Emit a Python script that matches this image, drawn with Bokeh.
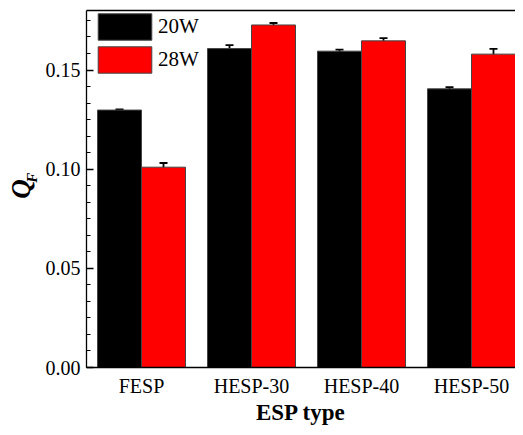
from bokeh.plotting import figure
from bokeh.models import (ColumnDataSource, Range1d, FixedTicker, LinearAxis, Legend,
                          LegendItem, Whisker, TeeHead, Title, NumeralTickFormatter)
from bokeh.embed import file_html
from bokeh.resources import INLINE

categories = ["FESP", "HESP-30", "HESP-40", "HESP-50"]
qf_20w = [0.1298, 0.1608, 0.1595, 0.1405]
qf_28w = [0.1010, 0.1727, 0.1647, 0.1580]
err_20w = [0.0003, 0.0017, 0.0008, 0.0008]
err_28w = [0.0021, 0.0010, 0.0014, 0.0027]
series_names = ["20W", "28W"]
y_major_ticks = [0.0, 0.05, 0.10, 0.15]

FONT = "Liberation Serif"
idx = list(range(len(categories)))

p = figure(width=515, height=427, output_backend="svg", toolbar_location=None,
           x_range=Range1d(-0.5, 3.4), y_range=Range1d(0, 0.18),
           min_border_left=86, min_border_right=0, min_border_top=10, min_border_bottom=57)
p.outline_line_color = None
p.xgrid.visible = False
p.ygrid.visible = False
p.background_fill_color = "white"
p.border_fill_color = "white"

def make_src(vals, errs, off):
    return ColumnDataSource(dict(
        x=[i + off for i in idx], top=vals,
        upper=[v + e for v, e in zip(vals, errs)],
        lower=[v - e for v, e in zip(vals, errs)]))

s20 = make_src(qf_20w, err_20w, -0.2)
s28 = make_src(qf_28w, err_28w, 0.2)

r20 = p.vbar(x="x", top="top", width=0.4, source=s20, fill_color="black",
             line_color="#444444", line_width=1)
r28 = p.vbar(x="x", top="top", width=0.4, source=s28, fill_color="#ff0000",
             line_color="#444444", line_width=1)

for s in (s20, s28):
    w = Whisker(base="x", upper="upper", lower="lower", source=s,
                line_color="black", line_width=1.8,
                upper_head=TeeHead(size=8, line_width=1.8, line_color="black"),
                lower_head=TeeHead(size=8, line_width=1.8, line_color="black"))
    p.add_layout(w)

xa = p.xaxis[0]
xa.ticker = FixedTicker(ticks=idx)
xa.major_label_overrides = {i: c for i, c in enumerate(categories)}
xa.major_tick_in = 0
xa.major_tick_out = 0
xa.minor_tick_in = 0
xa.minor_tick_out = 0
xa.axis_line_color = "black"
xa.axis_line_width = 1.3
xa.major_label_text_font = FONT
xa.major_label_text_font_size = "20px"
xa.major_label_text_color = "black"
xa.major_label_standoff = 7
xa.axis_label = "ESP type"
xa.axis_label_text_font = FONT
xa.axis_label_text_font_style = "bold"
xa.axis_label_text_font_size = "23px"
xa.axis_label_text_color = "black"
xa.axis_label_standoff = 0

ya = p.yaxis[0]
ya.ticker = FixedTicker(ticks=y_major_ticks,
                        minor_ticks=[k * 0.05 / 6 for k in range(22)])
ya.formatter = NumeralTickFormatter(format="0.00")
ya.major_tick_in = 7
ya.major_tick_out = 0
ya.minor_tick_in = 4
ya.minor_tick_out = 0
ya.major_tick_line_color = "black"
ya.minor_tick_line_color = "black"
ya.major_tick_line_width = 1.3
ya.minor_tick_line_width = 1.1
ya.axis_line_color = "black"
ya.axis_line_width = 1.3
ya.major_label_text_font = FONT
ya.major_label_text_font_size = "20px"
ya.major_label_text_color = "black"
ya.major_label_standoff = 6
# subscript "F" of the y label, shifted upward with leading no-break spaces
ya.axis_label = "\u00a0" * 6 + "F"
ya.axis_label_text_font = FONT
ya.axis_label_text_font_style = "bold italic"
ya.axis_label_text_font_size = "15px"
ya.axis_label_text_color = "black"
ya.axis_label_standoff = 3

top = LinearAxis(ticker=FixedTicker(ticks=[]), axis_line_color="black", axis_line_width=1.3,
                 major_tick_in=0, major_tick_out=0, minor_tick_in=0, minor_tick_out=0,
                 major_label_text_alpha=0)
p.add_layout(top, "above")

q_title = Title(text="Q", text_font=FONT, text_font_style="bold italic",
                text_font_size="27px", text_color="black", align="center",
                offset=6, standoff=0)
try:
    q_title.standoff = -30
except Exception:
    q_title.standoff = 0
p.add_layout(q_title, "left")

legend = Legend(items=[LegendItem(label=series_names[0], renderers=[r20]),
                       LegendItem(label=series_names[1], renderers=[r28])],
                location=(5, 291), glyph_width=67, glyph_height=33, spacing=-4,
                padding=0, margin=0, label_standoff=0,
                border_line_color=None, background_fill_alpha=0,
                label_text_font=FONT, label_text_font_size="21px",
                label_text_color="black")
p.add_layout(legend, "center")

open("out.html", "w").write(file_html(p, INLINE))
